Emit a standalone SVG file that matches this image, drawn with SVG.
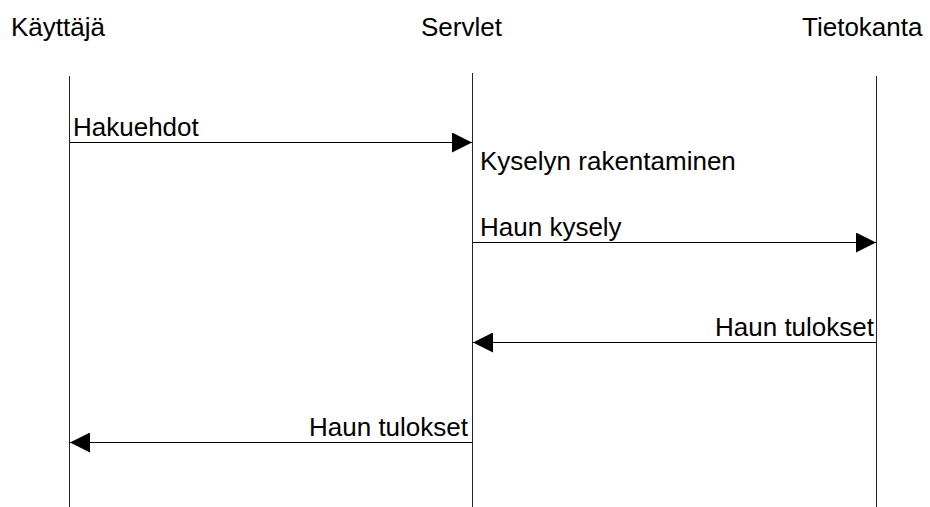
<svg xmlns="http://www.w3.org/2000/svg" width="930" height="507" viewBox="0 0 930 507">
<style>
text{font-family:"Liberation Sans",Arial,sans-serif;font-size:26px;fill:#000}
.life{stroke:#222;stroke-width:1;fill:none}
.msg{stroke:#000;stroke-width:1;fill:none}
</style>
<defs>
<marker id="ah" viewBox="0 0 20 20" markerWidth="20" markerHeight="20" refX="20" refY="10" orient="auto" markerUnits="userSpaceOnUse">
<path d="M0,0 L20,10 L0,20 Z" fill="#000"/>
</marker>
</defs>
<rect width="930" height="507" fill="#fff"/>
<g id="kayttaja">
<text x="11" y="36">Käyttäjä</text>
<line class="life" x1="69.5" y1="76" x2="69.5" y2="507"/>
</g>
<g id="servlet">
<text x="421" y="36">Servlet</text>
<line class="life" x1="472.5" y1="73" x2="472.5" y2="507"/>
<text x="480" y="170">Kyselyn rakentaminen</text>
</g>
<g id="tietokanta">
<text x="802" y="36">Tietokanta</text>
<line class="life" x1="876.5" y1="76" x2="876.5" y2="507"/>
</g>
<g id="connectors">
<line class="msg" x1="70" y1="142.5" x2="472" y2="142.5" marker-end="url(#ah)"/>
<text x="73" y="136">Hakuehdot</text>
<line class="msg" x1="473" y1="242.5" x2="876" y2="242.5" marker-end="url(#ah)"/>
<text x="480" y="236">Haun kysely</text>
<line class="msg" x1="876" y1="342.5" x2="473" y2="342.5" marker-end="url(#ah)"/>
<text x="874" y="336" text-anchor="end">Haun tulokset</text>
<line class="msg" x1="472" y1="442.5" x2="70" y2="442.5" marker-end="url(#ah)"/>
<text x="468" y="436" text-anchor="end">Haun tulokset</text>
</g>
</svg>
